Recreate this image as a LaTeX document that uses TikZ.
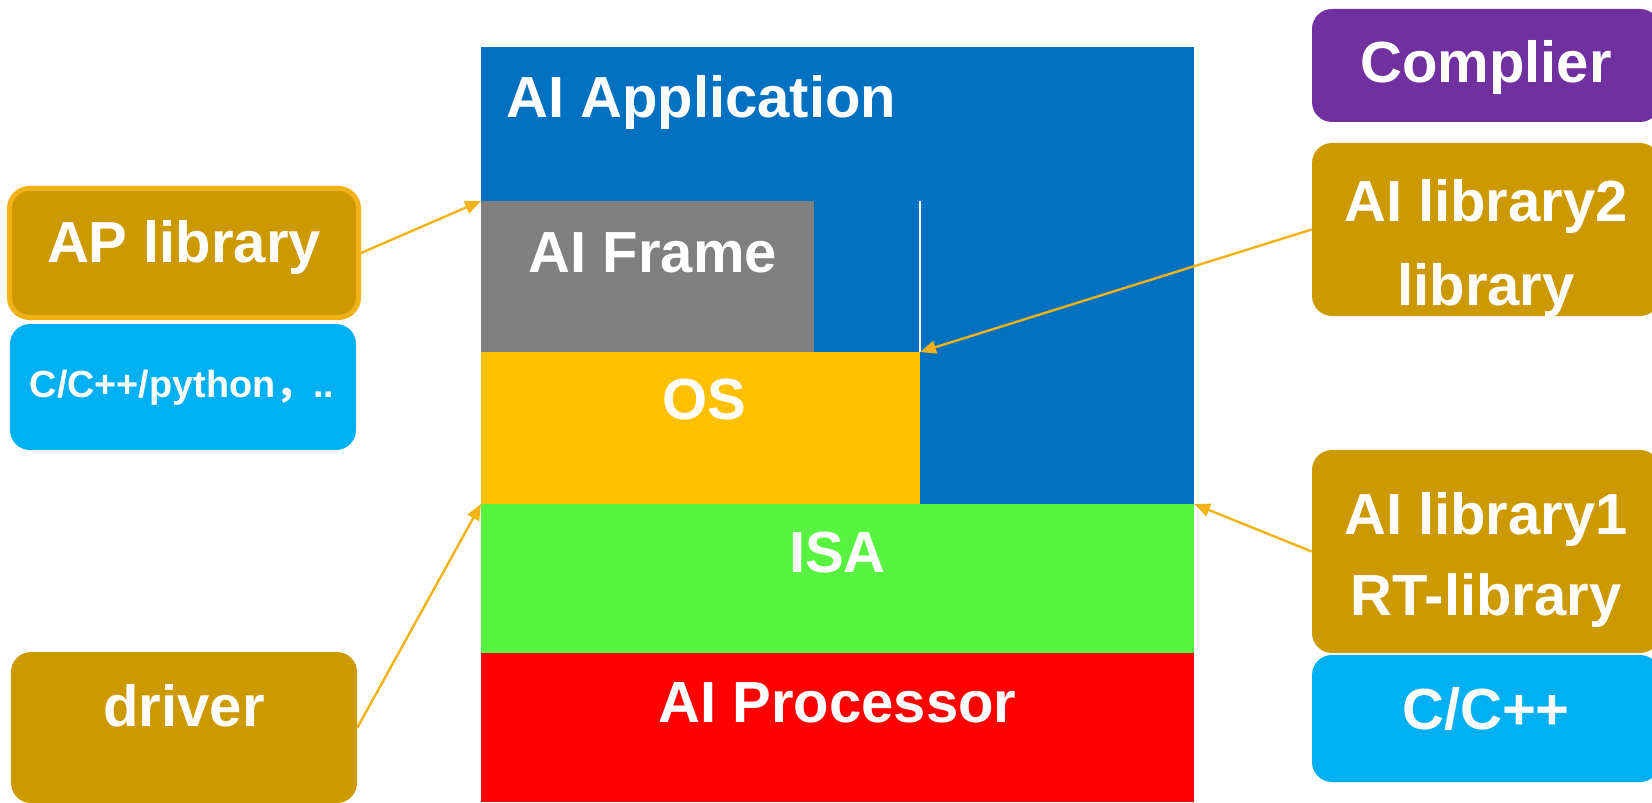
\documentclass[tikz,border=0pt]{standalone}
\usepackage{fontspec}
\setmainfont{Liberation Sans}
\newfontfamily\cjk{Noto Sans CJK SC}
\usetikzlibrary{arrows.meta}

\definecolor{appblue}{RGB}{0,112,192}
\definecolor{framegray}{RGB}{128,128,128}
\definecolor{osyellow}{RGB}{255,192,0}
\definecolor{isagreen}{RGB}{88,242,64}
\definecolor{procred}{RGB}{255,0,0}
\definecolor{libgold}{RGB}{204,153,0}
\definecolor{langblue}{RGB}{0,176,240}
\definecolor{compurple}{RGB}{112,48,160}
\definecolor{linkorange}{RGB}{240,178,20}

\tikzset{
  layer/.style={rectangle, anchor=north west, inner sep=0pt, outer sep=0pt, minimum width=356.5pt},
  libbox/.style={rectangle, rounded corners=10pt, fill=libgold, inner sep=0pt, minimum width=174pt},
  langbox/.style={libbox, fill=langblue},
  big/.style={text=white, font=\bfseries\fontsize{29pt}{34pt}\selectfont, inner sep=0pt, anchor=base},
  small/.style={big, font=\bfseries\fontsize{18.9pt}{22pt}\selectfont},
  link/.style={draw=linkorange, line width=1.2pt, -{Triangle[length=8pt,width=6.5pt]}}
}

\begin{document}
\begin{tikzpicture}[x=0.5pt, y=-0.5pt]
\useasboundingbox (0,0) rectangle (1652,802);

% The layer stack
\node[layer, fill=appblue, minimum height=228.5pt] (app) at (481,47) {};
\node[layer, fill=framegray, minimum width=166.5pt, minimum height=75.5pt] (frame) at (481,201) {};
\node[layer, fill=osyellow, minimum width=219.5pt, minimum height=76pt] (os) at (481,352) {};
\node[layer, fill=isagreen, minimum height=74.5pt] (isa) at (481,504) {};
\node[layer, fill=procred, minimum height=74.5pt] (proc) at (481,653) {};
\draw[white, line width=0.7pt] (os.north east) -- (os.north east |- frame.north);

\node[big, anchor=base west] (appT) at (506,118) {AI Application};
\node[big] (frameT) at (653,272) {AI Frame};
\node[big] (osT) at (704,419) {OS};
\node[big] (isaT) at (837.5,572) {ISA};
\node[big] (procT) at (837.5,722) {AI Processor};

% Left column
\node[libbox, draw=linkorange, line width=2.5pt, minimum width=174.5pt, minimum height=64.5pt] (aplib) at (184,253) {};
\node[langbox, minimum width=173pt, minimum height=63pt] (pylib) at (183,387) {};
\node[libbox, minimum width=173pt, minimum height=75.5pt] (driver) at (184,727.5) {};

\node[big] (aplibT) at (184,262) {AP library};
\node[small] (pylibT) at (182,397) {C/C++/python{\cjk ，}..};
\node[big] (driverT) at (184,726) {driver};

% Right column
\node[libbox, fill=compurple, minimum height=56.5pt] (comp) at (1486,65.5) {};
\node[libbox, minimum height=86.5pt] (lib2) at (1486,229.5) {};
\node[libbox, minimum height=101.5pt] (lib1) at (1486,551.5) {};
\node[langbox, minimum height=63.5pt] (cpp) at (1486,718.5) {};

\node[big] (compT) at (1486,83) {Complier};
\node[big] (lib2Ta) at (1486,221) {AI library2};
\node[big] (lib2Tb) at (1486,305) {library};
\node[big] (lib1Ta) at (1486,534) {AI library1};
\node[big] (lib1Tb) at (1486,615) {RT-library};
\node[big] (cppT) at (1486,729) {C/C++};

% Links
\draw[link] (aplib.east) -- (frame.north west);
\draw[link] (lib2.west) -- (os.north east);
\draw[link] (lib1.west) -- (isa.north east);
\draw[link] (driver.east) -- (os.south west);
\end{tikzpicture}
\end{document}
